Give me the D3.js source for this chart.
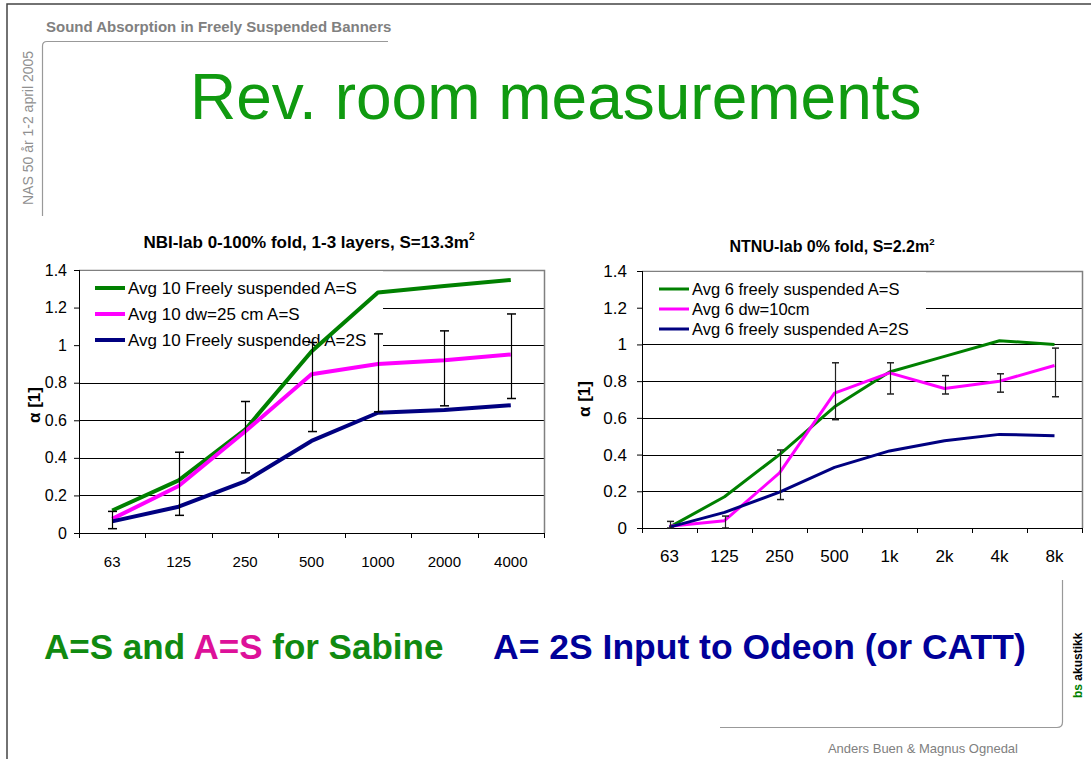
<!DOCTYPE html>
<html>
<head>
<meta charset="utf-8">
<script src="https://cdn.jsdelivr.net/npm/d3@7"></script>
<style>
	body { margin: 0; background: #fff; }
	svg { display: block; font-family: Arial, "Liberation Sans", sans-serif; }
	.axis path { display: none; }
	.axis line { stroke: #000; }
	.axis text { fill: #000; font-family: Arial, "Liberation Sans", sans-serif; }
</style>
</head>
<body>
<div id="slide"></div>
<script>
// NBI-lab, 7 octave bands
var nbiFreq = ["63", "125", "250", "500", "1000", "2000", "4000"];
var nbiFree = [0.12, 0.28, 0.55, 0.966, 1.28, 1.315, 1.347];
var nbiWall = [0.075, 0.25, 0.54, 0.845, 0.90, 0.92, 0.95];
var nbiFree2S = [0.062, 0.14, 0.275, 0.49, 0.64, 0.655, 0.68];
var nbiErrLo = [0.023, 0.094, 0.32, 0.54, 0.645, 0.677, 0.716];
var nbiErrHi = [0.115, 0.43, 0.70, 1.014, 1.06, 1.076, 1.166];

// NTNU-lab, 8 octave bands
var ntnuFreq = ["63", "125", "250", "500", "1k", "2k", "4k", "8k"];
var ntnuFree = [0.005, 0.17, 0.40, 0.66, 0.85, 0.935, 1.02, 1.00];
var ntnuWall = [0.01, 0.04, 0.30, 0.735, 0.845, 0.76, 0.80, 0.885];
var ntnuFree2S = [0.005, 0.085, 0.195, 0.33, 0.42, 0.475, 0.51, 0.503];
var ntnuErrLo = [0, 0, 0.155, 0.59, 0.73, 0.73, 0.74, 0.715];
var ntnuErrHi = [0.036, 0.065, 0.425, 0.90, 0.90, 0.83, 0.84, 0.98];

var yTicks = [0, 0.2, 0.4, 0.6, 0.8, 1, 1.2, 1.4];
var nbiNames = ["Avg 10 Freely suspended A=S", "Avg 10 dw=25 cm A=S", "Avg 10 Freely suspended A=2S"];
var ntnuNames = ["Avg 6 freely suspended A=S", "Avg 6 dw=10cm", "Avg 6 freely suspended A=2S"];
var seriesColors = ["#008000", "#ff00ff", "#000080"];

var svg = d3.select("#slide").append("svg")
	.attr("width", 1091)
	.attr("height", 759);

svg.append("rect").attr("width", 1091).attr("height", 759).attr("fill", "#fff");

//slide frame
svg.append("path")
	.attr("d", "M7,759 V4 H1091")
	.attr("fill", "none")
	.attr("stroke", "#444")
	.attr("stroke-width", 1.5);

svg.append("path")
	.attr("d", "M42.5,216 V46 Q42.5,41.5 47,41.5 H388")
	.attr("fill", "none")
	.attr("stroke", "#999")
	.attr("stroke-width", 1.2);

svg.append("path")
	.attr("d", "M720,727.5 H1057 Q1062.5,727.5 1062.5,722 V580")
	.attr("fill", "none")
	.attr("stroke", "#999")
	.attr("stroke-width", 1.2);

svg.append("text")
	.attr("x", 46).attr("y", 32)
	.attr("font-size", 15).attr("font-weight", "bold")
	.attr("fill", "#808080")
	.text("Sound Absorption in Freely Suspended Banners");

svg.append("text")
	.attr("transform", "translate(33,205) rotate(-90)")
	.attr("font-size", 14)
	.attr("fill", "#909090")
	.text("NAS 50 år 1-2 april 2005");

svg.append("text")
	.attr("x", 190).attr("y", 119)
	.attr("font-size", 64)
	.attr("fill", "#109a10")
	.text("Rev. room measurements");

//draws one of the two absorption charts
function drawChart(opt)
{
	var x = d3.scaleBand()
		.domain(opt.freq)
		.range([opt.left, opt.right]);

	var y = d3.scaleLinear()
		.domain([0, 1.4])
		.range([opt.bottom, opt.top]);

	var g = svg.append("g");

	//gridlines
	g.selectAll("line.grid").data(yTicks.slice(1, -1)).enter().append("line")
		.attr("class", "grid")
		.attr("x1", opt.left).attr("x2", opt.right)
		.attr("y1", function(d) { return Math.round(y(d)) + 0.5; })
		.attr("y2", function(d) { return Math.round(y(d)) + 0.5; })
		.attr("stroke", "#000")
		.attr("stroke-width", 1);

	//plot border top/right
	g.append("path")
		.attr("d", "M" + opt.left + "," + (Math.round(opt.top) + 0.5) + " H" + (opt.right + 0.5) + " V" + opt.bottom)
		.attr("fill", "none")
		.attr("stroke", "#808080")
		.attr("stroke-width", 1.5);

	//legend background hides the gridlines
	g.append("rect")
		.attr("x", opt.left + 1).attr("y", opt.top + 1)
		.attr("width", opt.legendRight - opt.left - 1)
		.attr("height", opt.legendBottom - opt.top - 1)
		.attr("fill", "#fff");

	var legend = g.selectAll("g.leg").data(opt.names).enter().append("g")
		.attr("class", "leg")
		.attr("transform", function(d, i) { return "translate(0," + opt.legendY[i] + ")"; });

	legend.append("line")
		.attr("x1", opt.legendX).attr("x2", opt.legendX + 30)
		.attr("stroke", function(d, i) { return seriesColors[i]; })
		.attr("stroke-width", opt.lineWidth);

	legend.append("text")
		.attr("x", opt.legendX + 33)
		.attr("dy", "0.36em")
		.attr("font-size", opt.legendSize)
		.text(function(d) { return d; });

	//axes
	g.append("g")
		.attr("class", "axis")
		.attr("transform", "translate(" + opt.left + ",0)")
		.call(d3.axisLeft(y).tickValues(yTicks).tickSize(5).tickPadding(opt.yPad)
			.tickFormat(function(d) { return String(d); }))
		.selectAll("text").attr("font-size", opt.yTickSize);

	g.append("g")
		.attr("class", "axis")
		.attr("transform", "translate(0," + opt.bottom + ")")
		.call(d3.axisBottom(x).tickSize(0).tickPadding(opt.xPad))
		.selectAll("text").attr("font-size", opt.tickSize);

	//x ticks sit between the categories
	var bounds = opt.freq.map(function(d) { return x(d); }).concat([opt.right]);
	g.selectAll("line.xt").data(bounds).enter().append("line")
		.attr("class", "xt")
		.attr("x1", function(d) { return Math.round(d) + 0.5; })
		.attr("x2", function(d) { return Math.round(d) + 0.5; })
		.attr("y1", opt.bottom).attr("y2", opt.bottom + 5)
		.attr("stroke", "#000");

	g.append("line")
		.attr("x1", opt.left + 0.5).attr("x2", opt.left + 0.5)
		.attr("y1", opt.top).attr("y2", opt.bottom)
		.attr("stroke", "#000");
	g.append("line")
		.attr("x1", opt.left).attr("x2", opt.right)
		.attr("y1", opt.bottom + 0.5).attr("y2", opt.bottom + 0.5)
		.attr("stroke", "#000");

	//series
	var line = d3.line()
		.x(function(d, i) { return x(opt.freq[i]) + x.bandwidth() / 2; })
		.y(function(d) { return y(d); });

	g.selectAll("path.series").data(opt.series).enter().append("path")
		.attr("class", "series")
		.attr("d", line)
		.attr("fill", "none")
		.attr("stroke", function(d, i) { return seriesColors[i]; })
		.attr("stroke-width", opt.lineWidth)
		.attr("stroke-linejoin", "round");

	//error bars
	var err = g.selectAll("g.err").data(opt.errLo).enter().append("g")
		.attr("class", "err")
		.attr("transform", function(d, i) { return "translate(" + (Math.round(x(opt.freq[i]) + x.bandwidth() / 2) + 0.5) + ",0)"; });

	err.append("line")
		.attr("y1", function(d) { return y(d); })
		.attr("y2", function(d, i) { return y(opt.errHi[i]); })
		.attr("stroke", opt.errColor).attr("stroke-width", 1.2);
	err.append("line")
		.attr("x1", -opt.cap).attr("x2", opt.cap)
		.attr("y1", function(d) { return y(d); })
		.attr("y2", function(d) { return y(d); })
		.attr("stroke", opt.errColor).attr("stroke-width", 1.5);
	err.append("line")
		.attr("x1", -opt.cap).attr("x2", opt.cap)
		.attr("y1", function(d, i) { return y(opt.errHi[i]); })
		.attr("y2", function(d, i) { return y(opt.errHi[i]); })
		.attr("stroke", opt.errColor).attr("stroke-width", 1.5);

	//title and y label
	var title = g.append("text")
		.attr("x", opt.titleX).attr("y", opt.titleY)
		.attr("text-anchor", "middle")
		.attr("font-size", opt.titleSize).attr("font-weight", "bold")
		.text(opt.title);
	title.append("tspan")
		.attr("dy", -opt.titleSize * 0.45)
		.attr("font-size", opt.titleSize * 0.6)
		.text("2");

	g.append("text")
		.attr("transform", "translate(" + opt.ylabX + "," + opt.ylabY + ") rotate(-90)")
		.attr("text-anchor", "middle")
		.attr("font-size", opt.ylabSize).attr("font-weight", "bold")
		.text("α  [1]");
}

drawChart({
	freq: nbiFreq,
	series: [nbiFree, nbiWall, nbiFree2S],
	errLo: nbiErrLo, errHi: nbiErrHi,
	names: nbiNames,
	left: 79, right: 544, top: 270, bottom: 533,
	legendRight: 383, legendBottom: 352,
	legendX: 95, legendY: [288, 314, 340], legendSize: 17,
	lineWidth: 4, cap: 4.5, errColor: "#000",
	tickSize: 15, yTickSize: 16, yPad: 7, xPad: 23,
	title: "NBI-lab 0-100% fold, 1-3 layers, S=13.3m", titleX: 309, titleY: 248, titleSize: 17,
	ylabX: 40, ylabY: 405, ylabSize: 17
});

drawChart({
	freq: ntnuFreq,
	series: [ntnuFree, ntnuWall, ntnuFree2S],
	errLo: ntnuErrLo, errHi: ntnuErrHi,
	names: ntnuNames,
	left: 642, right: 1082, top: 271, bottom: 528,
	legendRight: 926, legendBottom: 340,
	legendX: 659, legendY: [289, 309, 329], legendSize: 16.5,
	lineWidth: 3, cap: 3.5, errColor: "#222",
	tickSize: 17, yTickSize: 17, yPad: 10, xPad: 22,
	title: "NTNU-lab 0% fold, S=2.2m", titleX: 832, titleY: 252, titleSize: 16,
	ylabX: 590, ylabY: 399, ylabSize: 17
});

//bottom notes
var note1 = svg.append("text")
	.attr("x", 44).attr("y", 659)
	.attr("font-size", 35).attr("font-weight", "bold")
	.attr("fill", "#108a10");
note1.append("tspan").text("A=S and ");
note1.append("tspan").attr("fill", "#dd1199").text("A=S");
note1.append("tspan").text(" for Sabine");

svg.append("text")
	.attr("x", 493).attr("y", 659)
	.attr("font-size", 35.5).attr("font-weight", "bold")
	.attr("fill", "#000099")
	.text("A= 2S Input to Odeon (or CATT)");

var logo = svg.append("text")
	.attr("transform", "translate(1082,698) rotate(-90)")
	.attr("font-size", 12).attr("font-weight", "bold");
logo.append("tspan").attr("fill", "#008000").text("bs ");
logo.append("tspan").attr("fill", "#000").text("akustikk");

svg.append("text")
	.attr("x", 1018).attr("y", 753)
	.attr("text-anchor", "end")
	.attr("font-size", 13)
	.attr("fill", "#808080")
	.text("Anders Buen & Magnus Ognedal");
</script>
</body>
</html>
